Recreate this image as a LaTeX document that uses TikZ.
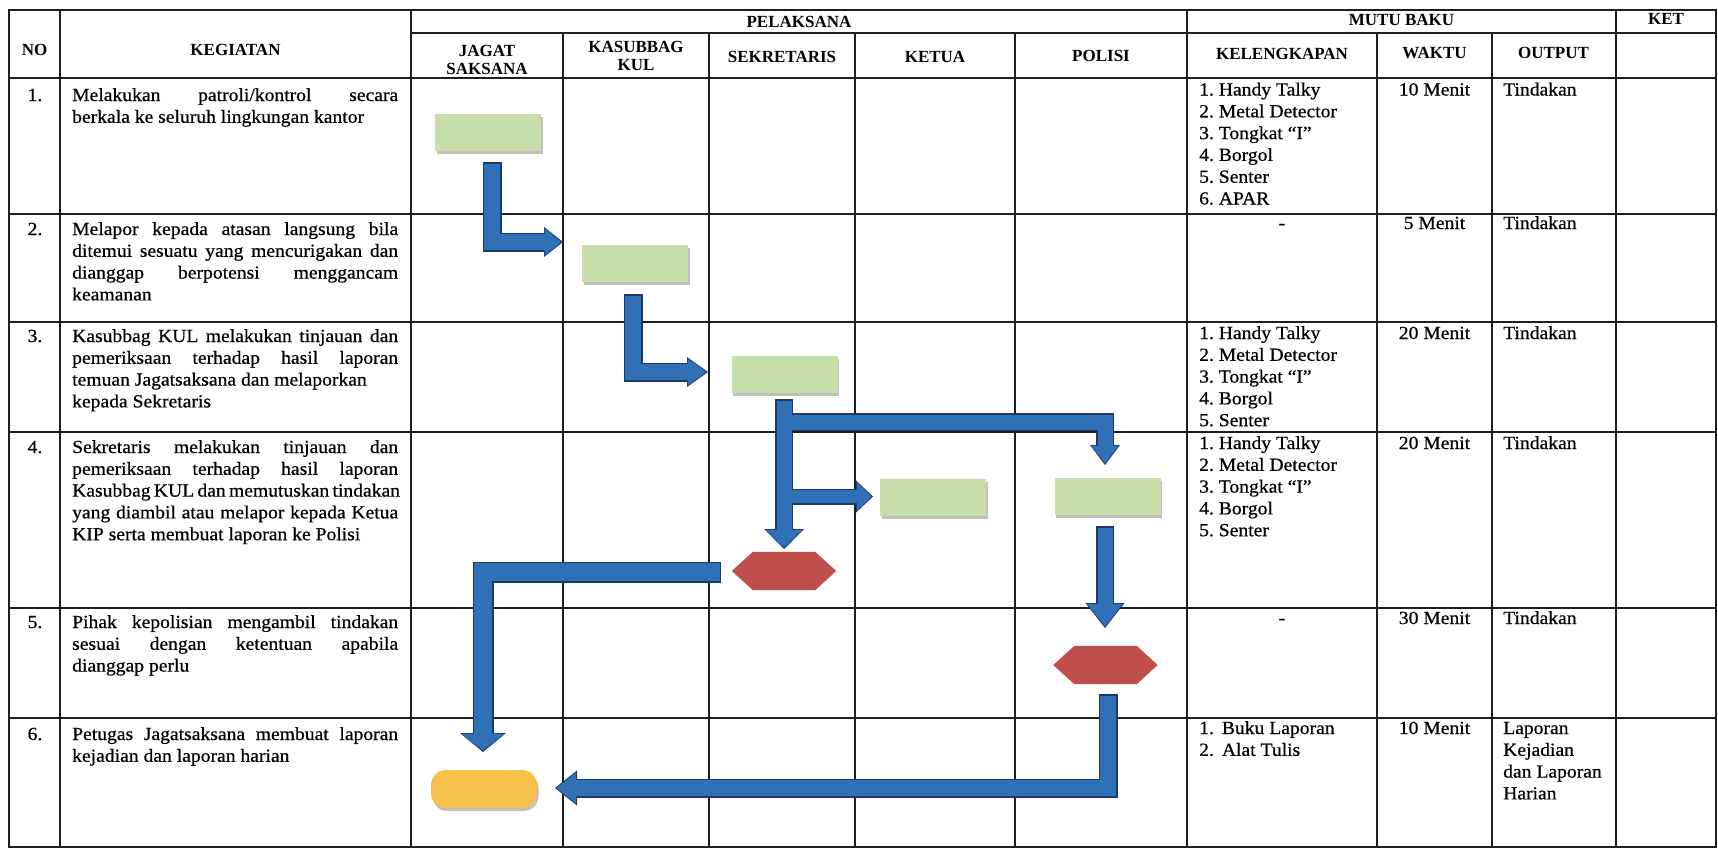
\documentclass[tikz,border=0pt]{standalone}
\usepackage{fontspec}
\setmainfont{Liberation Serif}[FakeStretch=1.06,FakeBold=0.6]
\newfontfamily\headfont{Liberation Serif}[UprightFont={* Bold}]
\usetikzlibrary{arrows.meta,shadows,calc}

\definecolor{rulecol}{RGB}{30,30,30}
\definecolor{flowblue}{RGB}{47,112,182}
\definecolor{flowedge}{RGB}{28,58,105}
\definecolor{taskgreen}{RGB}{197,222,170}
\definecolor{decisionred}{RGB}{192,78,74}
\definecolor{endgold}{RGB}{246,193,74}

% ordinary word spacing inside the ragged text nodes
\newcommand\np{\frenchspacing\spaceskip=0pt\xspaceskip=0pt\relax}
% justified line of the activity column
\newcommand\fullline[1]{\makebox[326pt][s]{\np #1}}

% block arrows are drawn in two passes: dark edge first, blue body second
\newif\ifedgepass
% #1 shaft width, #2 head width, #3 head length, #4 path
\newcommand\blockflow[4]{%
  \ifedgepass
    \draw[line width=#1pt, draw=flowedge, line join=miter,
          -{Triangle[width=#2pt,length=#3pt,line width=0pt]}] #4;
  \else
    \pgfmathsetmacro\innerw{#1-3}%
    \pgfmathsetmacro\innerhw{#2-3.5}%
    \pgfmathsetmacro\innerhl{#3-2.5}%
    \draw[line width=\innerw pt, draw=flowblue, line join=miter,
          shorten <=1.5pt, shorten >=1.6pt,
          -{Triangle[width=\innerhw pt,length=\innerhl pt,line width=0pt]}] #4;
  \fi}

\newcommand\allflows{%
  \blockflow{19}{30}{19}{(f1a) |- (f1b)}
  \blockflow{19}{30}{21}{(f2a) |- (f2b)}
  \blockflow{18}{30}{20}{(f3c) -| (f3d)}
  \blockflow{16}{32}{17}{(f3e) -- (f3f)}
  \blockflow{18}{40}{20}{(f3a) -- (f3b)}
  \blockflow{18}{39}{25}{(f4a) -- (f4b)}
  \blockflow{21}{46}{19}{(f5a) -| (f5b)}
  \blockflow{19}{35}{22}{(f6a) |- (f6b)}
}

\tikzset{
  gridline/.style={draw=rulecol, line width=1.6pt},
  headtext/.style={font=\headfont\fontsize{17}{18.5}\selectfont, inner sep=0pt, align=center},
  bodytext/.style={font=\fontsize{18.5}{21.8}\selectfont, inner sep=0pt, anchor=base west,
                   text width=#1, align=left},
  bodytext/.default=180pt,
  celltext/.style={font=\fontsize{18.5}{21.8}\selectfont, inner sep=0pt, anchor=base},
  task/.style={rectangle, fill=taskgreen, minimum width=106pt, minimum height=37pt,
               inner sep=0pt, drop shadow={shadow xshift=1.5pt, shadow yshift=-3pt,
               opacity=0.25, fill=black}},
  finish/.style={rectangle, rounded corners=15pt, fill=endgold, minimum width=106pt,
                 minimum height=38pt, inner sep=0pt, drop shadow={shadow xshift=1.5pt,
                 shadow yshift=-3pt, opacity=0.25, fill=black}},
  decision/.style={rectangle, minimum width=104pt, minimum height=38pt, inner sep=0pt},
}

\begin{document}
\begin{tikzpicture}[x=1pt,y=-1pt]
\useasboundingbox (0,0) rectangle (1718,849);
\fill[white] (0,0) rectangle (1718,849);

% ---------- table rules ----------
\draw[gridline] (9,10) rectangle (1716,847);
\draw[gridline] (411,33) -- (1716,33);
\foreach \y in {78,214,322,432,608,718}
  \draw[gridline] (9,\y) -- (1716,\y);
\foreach \x in {60,411,1187,1616}
  \draw[gridline] (\x,10) -- (\x,847);
\foreach \x in {563,709,855,1015,1377,1492}
  \draw[gridline] (\x,33) -- (\x,847);

% ---------- header ----------
\node[headtext] (hno)   at (34.5,50)  {NO};
\node[headtext] (hkeg)  at (235.5,50) {KEGIATAN};
\node[headtext] (hpel)  at (799,21.5) {PELAKSANA};
\node[headtext] (hmutu) at (1401.5,20) {MUTU BAKU};
\node[headtext] (hket)  at (1666,19)  {KET};
\node[headtext] (hjag)  at (487,60)   {JAGAT\\SAKSANA};
\node[headtext] (hkas)  at (636,56)   {KASUBBAG\\KUL};
\node[headtext] (hsek)  at (782,57)   {SEKRETARIS};
\node[headtext] (hktu)  at (935,57)   {KETUA};
\node[headtext] (hpol)  at (1101,56)  {POLISI};
\node[headtext] (hkel)  at (1282,54)  {KELENGKAPAN};
\node[headtext] (hwak)  at (1434.5,53) {WAKTU};
\node[headtext] (hout)  at (1553.5,53) {OUTPUT};

% ---------- row numbers ----------
\node[celltext] (n1) at (35,101) {1.};
\node[celltext] (n2) at (35,235) {2.};
\node[celltext] (n3) at (35,342) {3.};
\node[celltext] (n4) at (35,453) {4.};
\node[celltext] (n5) at (35,628) {5.};
\node[celltext] (n6) at (35,740) {6.};

% ---------- activities ----------
\node[bodytext=326pt] (k1) at (72,101)
  {\np\fullline{Melakukan patroli/kontrol secara}\\berkala ke seluruh lingkungan kantor};
\node[bodytext=326pt] (k2) at (72,235)
  {\np\fullline{Melapor kepada atasan langsung bila}\\\fullline{ditemui sesuatu yang mencurigakan dan}\\\fullline{dianggap berpotensi menggancam}\\keamanan};
\node[bodytext=326pt] (k3) at (72,342)
  {\np\fullline{Kasubbag KUL melakukan tinjauan dan}\\\fullline{pemeriksaan terhadap hasil laporan}\\temuan Jagatsaksana dan melaporkan\\kepada Sekretaris};
\node[bodytext=326pt] (k4) at (72,453)
  {\np\fullline{Sekretaris melakukan tinjauan dan}\\\fullline{pemeriksaan terhadap hasil laporan}\\\fullline{Kasubbag KUL dan memutuskan tindakan}\\\fullline{yang diambil atau melapor kepada Ketua}\\KIP serta membuat laporan ke Polisi};
\node[bodytext=326pt] (k5) at (72,628)
  {\np\fullline{Pihak kepolisian mengambil tindakan}\\\fullline{sesuai dengan ketentuan apabila}\\dianggap perlu};
\node[bodytext=326pt] (k6) at (72,740)
  {\np\fullline{Petugas Jagatsaksana membuat laporan}\\kejadian dan laporan harian};

% ---------- equipment ----------
\node[bodytext] (e1) at (1199,95.5)
  {\np 1. Handy Talky\\2. Metal Detector\\3. Tongkat “I”\\4. Borgol\\5. Senter\\6. APAR};
\node[celltext] (e2) at (1282,229) {-};
\node[bodytext] (e3) at (1199,339)
  {\np 1. Handy Talky\\2. Metal Detector\\3. Tongkat “I”\\4. Borgol\\5. Senter};
\node[bodytext] (e4) at (1199,449)
  {\np 1. Handy Talky\\2. Metal Detector\\3. Tongkat “I”\\4. Borgol\\5. Senter};
\node[celltext] (e5) at (1282,624) {-};
\node[bodytext] (e6) at (1199,734)
  {\np 1.\hspace{8pt}Buku Laporan\\2.\hspace{8pt}Alat Tulis};

% ---------- time ----------
\node[celltext] (w1) at (1434.5,95.5) {10 Menit};
\node[celltext] (w2) at (1434.5,229)  {5 Menit};
\node[celltext] (w3) at (1434.5,339)  {20 Menit};
\node[celltext] (w4) at (1434.5,449)  {20 Menit};
\node[celltext] (w5) at (1434.5,624)  {30 Menit};
\node[celltext] (w6) at (1434.5,734)  {10 Menit};

% ---------- output ----------
\node[bodytext=110pt] (o1) at (1503,95.5) {Tindakan};
\node[bodytext=110pt] (o2) at (1503,229)  {Tindakan};
\node[bodytext=110pt] (o3) at (1503,339)  {Tindakan};
\node[bodytext=110pt] (o4) at (1503,449)  {Tindakan};
\node[bodytext=110pt] (o5) at (1503,624)  {Tindakan};
\node[bodytext=110pt] (o6) at (1503,734)  {\np Laporan\\Kejadian\\dan Laporan\\Harian};

% ---------- flow shapes ----------
\node[task] (s1) at (488,132)     {};
\node[task] (s2) at (635,263)     {};
\node[task] (s3) at (784.5,374)   {};
\node[task] (s4) at (933,497.5)   {};
\node[task] (s5) at (1107.5,496.5) {};
\node[decision] (d1) at (784,571)    {};
\node[decision] (d2) at (1105.5,665) {};
\node[finish] (end) at (484,789)  {};

\foreach \d in {d1,d2}
  \fill[decisionred] (\d.west) -- ([xshift=21pt]\d.north west) -- ([xshift=-21pt]\d.north east)
    -- (\d.east) -- ([xshift=-21pt]\d.south east) -- ([xshift=21pt]\d.south west) -- cycle;

% ---------- flow arrow ends ----------
\coordinate (f1a) at (492,162);   \coordinate (f1b) at (563,242);
\coordinate (f2a) at (633,294);   \coordinate (f2b) at (708,372);
\coordinate (f3a) at (784,399);   \coordinate (f3b) at (784,549);
\coordinate (f3c) at (784,422);   \coordinate (f3d) at (1105,465);
\coordinate (f3e) at (784,496.5); \coordinate (f3f) at (873,496.5);
\coordinate (f4a) at (1105,526);  \coordinate (f4b) at (1105,628);
\coordinate (f5a) at (721,572);   \coordinate (f5b) at (483,752);
\coordinate (f6a) at (1108,694);  \coordinate (f6b) at (555,788);

\edgepasstrue  \allflows
\edgepassfalse \allflows
\end{tikzpicture}
\end{document}
